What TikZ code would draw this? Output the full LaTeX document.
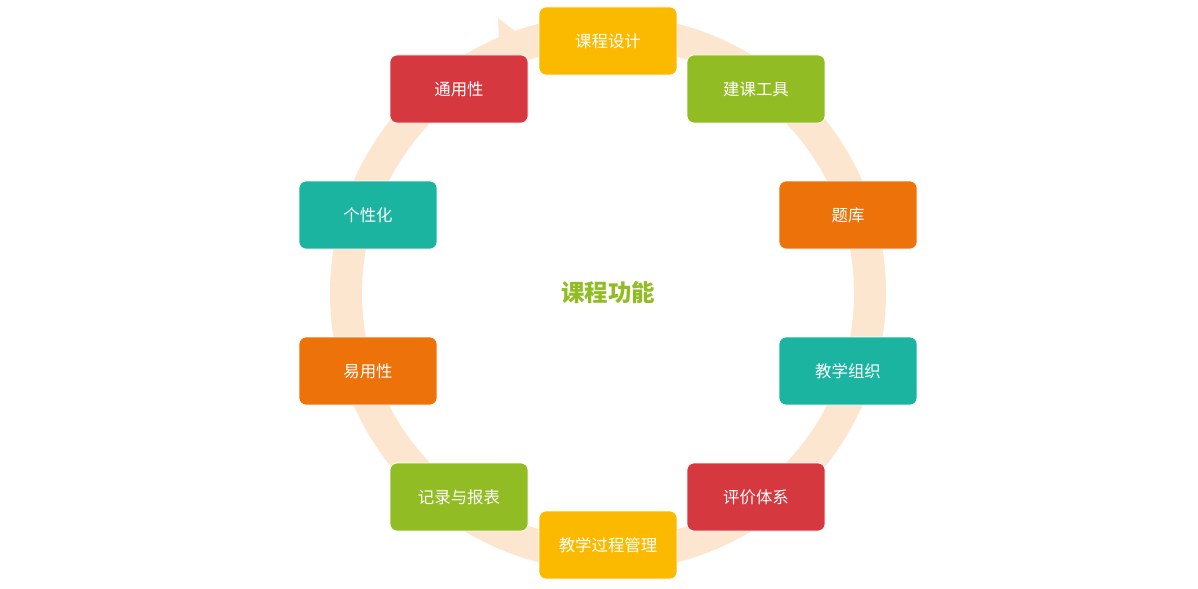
\documentclass[tikz,border=0pt]{standalone}
\usepackage{fontspec}
\setmainfont{Noto Sans CJK SC}
\definecolor{cyellow}{HTML}{FBB900}
\definecolor{cgreen}{HTML}{92BC24}
\definecolor{corange}{HTML}{EE720A}
\definecolor{cteal}{HTML}{1AB4A0}
\definecolor{cred}{HTML}{D63840}
\definecolor{cring}{HTML}{FDE6CF}
\begin{document}
\begin{tikzpicture}
    [
    x=0.03cm, y=-0.03cm,
    every node/.style={rectangle, rounded corners=6pt, minimum width=4.14cm, minimum height=2.04cm, text=white, font=\fontsize{14}{16}\selectfont, draw=white, line width=0.6pt},
    ]
    \useasboundingbox (0,0) rectangle (1198,589);
    % ring
    \draw[cring, line width=0.96cm] (608,293) circle[radius=262];
    \fill[cring] (498,18) -- (532,44) -- (500,64) -- cycle;

    \node[fill=cyellow] (n_design) at (608,41) {课程设计};
    \node[fill=cgreen] (n_tools) at (756,89) {建课工具};
    \node[fill=corange] (n_bank) at (848,215) {题库};
    \node[fill=cteal] (n_org) at (848,371) {教学组织};
    \node[fill=cred] (n_eval) at (756,497) {评价体系};
    \node[fill=cyellow] (n_process) at (608,545) {教学过程管理};
    \node[fill=cgreen] (n_report) at (459,497) {记录与报表};
    \node[fill=corange] (n_easy) at (368,371) {易用性};
    \node[fill=cteal] (n_custom) at (368,215) {个性化};
    \node[fill=cred] (n_general) at (459,89) {通用性};

    \node[draw=none, fill=none, text=cgreen, font=\fontsize{20}{24}\selectfont\bfseries] (n_title) at (608,293) {课程功能};
\end{tikzpicture}
\end{document}
